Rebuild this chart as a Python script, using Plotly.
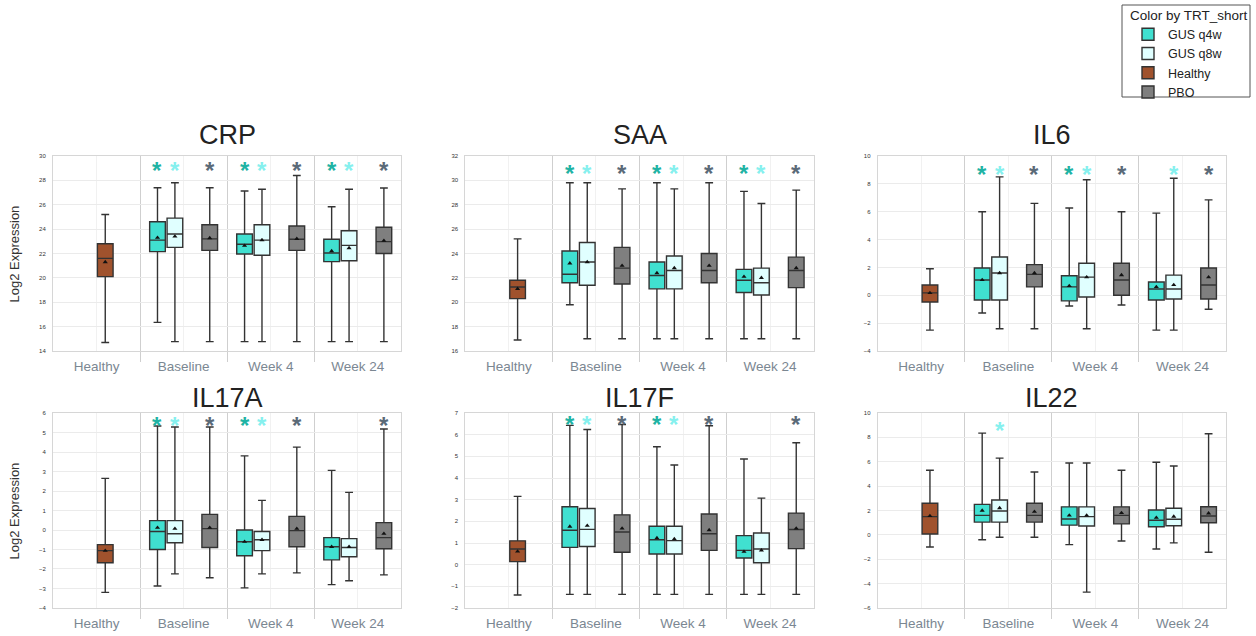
import plotly.graph_objects as go
from plotly.subplots import make_subplots

# ---------------------------------------------------------------- data
VISITS = ["Healthy", "Baseline", "Week 4", "Week 24"]
TREATMENTS = ["GUS q4w", "GUS q8w", "Healthy", "PBO"]

# order of the ten boxes drawn in every panel
BOX_VISIT = ["Healthy",
             "Baseline", "Baseline", "Baseline",
             "Week 4", "Week 4", "Week 4",
             "Week 24", "Week 24", "Week 24"]
BOX_TRT = ["Healthy",
           "GUS q4w", "GUS q8w", "PBO",
           "GUS q4w", "GUS q8w", "PBO",
           "GUS q4w", "GUS q8w", "PBO"]

MARKERS = ["CRP", "SAA", "IL6", "IL17A", "IL17F", "IL22"]

# CRP
CRP_LOW = [14.7, 16.35, 14.77, 14.77, 14.77, 14.77, 14.77, 14.77, 14.77, 14.77]
CRP_Q1 = [20.1, 22.15, 22.5, 22.26, 21.96, 21.85, 22.26, 21.33, 21.41, 22.0]
CRP_MED = [21.6, 23.1, 23.6, 23.2, 22.76, 23.1, 23.17, 22.04, 22.67, 22.97]
CRP_Q3 = [22.8, 24.6, 24.9, 24.36, 23.6, 24.36, 24.26, 23.17, 23.87, 24.15]
CRP_HIGH = [25.2, 27.4, 27.8, 27.4, 27.13, 27.27, 28.4, 25.84, 27.27, 27.37]
CRP_MEAN = [21.3, 23.3, 23.4, 23.27, 22.64, 23.1, 23.2, 22.2, 22.45, 23.05]
CRP_STAR = [0, 1, 1, 1, 1, 1, 1, 1, 1, 1]

# SAA
SAA_LOW = [16.9, 19.8, 17.0, 17.0, 17.0, 17.0, 17.0, 17.0, 17.0, 17.0]
SAA_Q1 = [20.3, 21.6, 21.4, 21.5, 21.1, 21.1, 21.6, 20.8, 20.6, 21.2]
SAA_MED = [21.25, 22.3, 23.3, 22.8, 22.2, 22.6, 22.6, 21.8, 21.6, 22.6]
SAA_Q3 = [21.8, 24.2, 24.9, 24.5, 23.3, 23.8, 24.0, 22.7, 22.8, 23.7]
SAA_HIGH = [25.2, 29.8, 29.8, 29.3, 29.8, 29.3, 29.8, 29.1, 28.1, 29.2]
SAA_MEAN = [21.1, 23.2, 23.3, 23.0, 22.4, 22.8, 23.0, 22.1, 22.0, 22.8]
SAA_STAR = [0, 1, 1, 1, 1, 1, 1, 1, 1, 1]

# IL6
IL6_LOW = [-2.5, -1.27, -2.4, -2.4, -0.77, -2.4, -0.7, -2.5, -2.5, -1.0]
IL6_Q1 = [-0.48, -0.34, -0.34, 0.6, -0.4, -0.12, 0.0, -0.34, -0.27, -0.27]
IL6_MED = [0.17, 1.1, 1.6, 1.5, 0.6, 1.3, 1.1, 0.45, 0.45, 0.74]
IL6_Q3 = [0.74, 1.96, 2.75, 2.2, 1.4, 2.3, 2.3, 0.95, 1.45, 1.96]
IL6_HIGH = [1.9, 6.0, 8.5, 6.6, 6.27, 8.3, 6.0, 5.9, 8.4, 6.85]
IL6_MEAN = [0.17, 1.1, 1.6, 1.6, 0.67, 1.3, 1.45, 0.6, 0.74, 1.3]
IL6_STAR = [0, 1, 1, 1, 1, 1, 1, 0, 1, 1]

# IL17A
IL17A_LOW = [-3.2, -2.87, -2.25, -2.45, -2.97, -2.25, -2.2, -2.8, -2.6, -2.3]
IL17A_Q1 = [-1.68, -1.0, -0.65, -0.9, -1.32, -1.06, -0.86, -1.53, -1.37, -0.96]
IL17A_MED = [-1.06, -0.08, -0.19, 0.07, -0.6, -0.5, -0.03, -0.86, -0.9, -0.39]
IL17A_Q3 = [-0.75, 0.48, 0.48, 0.8, 0.0, -0.08, 0.7, -0.39, -0.44, 0.38]
IL17A_HIGH = [2.65, 5.33, 5.28, 5.28, 3.8, 1.52, 4.25, 3.06, 1.93, 5.18]
IL17A_MEAN = [-1.06, 0.12, 0.07, 0.12, -0.6, -0.5, 0.07, -0.86, -0.86, -0.19]
IL17A_STAR = [0, 1, 1, 1, 1, 1, 1, 0, 0, 1]

# IL17F
IL17F_LOW = [-1.4, -1.37, -1.37, -1.37, -1.37, -1.37, -1.37, -1.37, -1.37, -1.37]
IL17F_Q1 = [0.14, 0.80, 0.84, 0.57, 0.49, 0.49, 0.66, 0.31, 0.09, 0.74]
IL17F_MED = [0.72, 1.59, 1.63, 1.51, 1.15, 1.11, 1.43, 0.66, 0.72, 1.62]
IL17F_Q3 = [1.1, 2.67, 2.59, 2.3, 1.77, 1.77, 2.34, 1.34, 1.46, 2.38]
IL17F_HIGH = [3.15, 6.43, 6.24, 6.47, 5.44, 4.6, 6.41, 4.88, 3.07, 5.63]
IL17F_MEAN = [0.61, 1.76, 1.8, 1.67, 1.23, 1.18, 1.6, 0.6, 0.66, 1.67]
IL17F_STAR = [0, 1, 1, 1, 1, 1, 1, 0, 0, 1]

# IL22
IL22_LOW = [-1.0, -0.4, -0.2, -0.2, -0.8, -4.7, -0.5, -1.16, -0.66, -1.43]
IL22_Q1 = [0.07, 1.05, 1.05, 1.05, 0.8, 0.73, 0.9, 0.67, 0.75, 1.0]
IL22_MED = [1.5, 1.6, 1.96, 1.6, 1.3, 1.5, 1.6, 1.2, 1.28, 1.55]
IL22_Q3 = [2.6, 2.5, 2.86, 2.6, 2.3, 2.3, 2.3, 2.04, 2.18, 2.31]
IL22_HIGH = [5.3, 8.35, 6.3, 5.16, 5.9, 5.9, 5.3, 5.96, 5.65, 8.3]
IL22_MEAN = [1.55, 2.0, 2.2, 1.9, 1.6, 1.6, 1.8, 1.41, 1.5, 1.77]
IL22_STAR = [0, 0, 1, 0, 0, 0, 0, 0, 0, 0]

PANELS = {
    "CRP": (CRP_LOW, CRP_Q1, CRP_MED, CRP_Q3, CRP_HIGH, CRP_MEAN, CRP_STAR),
    "SAA": (SAA_LOW, SAA_Q1, SAA_MED, SAA_Q3, SAA_HIGH, SAA_MEAN, SAA_STAR),
    "IL6": (IL6_LOW, IL6_Q1, IL6_MED, IL6_Q3, IL6_HIGH, IL6_MEAN, IL6_STAR),
    "IL17A": (IL17A_LOW, IL17A_Q1, IL17A_MED, IL17A_Q3, IL17A_HIGH, IL17A_MEAN, IL17A_STAR),
    "IL17F": (IL17F_LOW, IL17F_Q1, IL17F_MED, IL17F_Q3, IL17F_HIGH, IL17F_MEAN, IL17F_STAR),
    "IL22": (IL22_LOW, IL22_Q1, IL22_MED, IL22_Q3, IL22_HIGH, IL22_MEAN, IL22_STAR),
}

# ---------------------------------------------------------------- styling
Y_RANGE = {"CRP": (14, 30, 2), "SAA": (16, 32, 2), "IL6": (-4, 10, 2),
           "IL17A": (-4, 6, 1), "IL17F": (-2, 7, 1), "IL22": (-6, 10, 2)}
STAR_LEVEL = {"CRP": 29.2, "SAA": 30.95, "IL6": 9.05, "IL17A": 5.6,
              "IL17F": 6.69, "IL22": 9.0}

FILL = {"GUS q4w": "#40E0D0", "GUS q8w": "#E0FFFF",
        "Healthy": "#A0522D", "PBO": "#7F7F7F"}
STAR_COLOR = {"GUS q4w": "#1fb3a4", "GUS q8w": "#86f0ee", "PBO": "#5b6a78"}
# dodge: four slots inside each visit category
SLOT = {"GUS q4w": -0.3, "GUS q8w": -0.1, "Healthy": 0.1, "PBO": 0.3}
BOX_WIDTH = 0.18
FONT = "Liberation Sans, Arial, sans-serif"

fig = make_subplots(rows=2, cols=3, horizontal_spacing=0.0546,
                    vertical_spacing=0.1372)

annotations = []
for p, name in enumerate(MARKERS):
    row, col = p // 3 + 1, p % 3 + 1
    low, q1, med, q3, high, mean, star = PANELS[name]
    for trt in TREATMENTS:
        idx = [i for i, t in enumerate(BOX_TRT) if t == trt]
        xs = [VISITS.index(BOX_VISIT[i]) + SLOT[trt] for i in idx]
        fig.add_trace(go.Box(
            x=xs,
            lowerfence=[low[i] for i in idx],
            q1=[q1[i] for i in idx],
            median=[med[i] for i in idx],
            q3=[q3[i] for i in idx],
            upperfence=[high[i] for i in idx],
            width=BOX_WIDTH, whiskerwidth=0.5,
            fillcolor=FILL[trt],
            line=dict(color="#333333", width=1.4),
            boxpoints=False, name=trt, legendgroup=trt,
            showlegend=(p == 0), hoverinfo="skip",
        ), row=row, col=col)
        fig.add_trace(go.Scatter(
            x=xs, y=[mean[i] for i in idx], mode="markers",
            marker=dict(symbol="triangle-up", size=4.5, color="#111111"),
            showlegend=False, hoverinfo="skip",
        ), row=row, col=col)

    ax = "" if p == 0 else str(p + 1)
    # significance asterisks
    for i, flag in enumerate(star):
        if flag:
            trt = BOX_TRT[i]
            annotations.append(dict(
                x=VISITS.index(BOX_VISIT[i]) + SLOT[trt], y=STAR_LEVEL[name],
                xref="x" + ax, yref="y" + ax, text="<b>*</b>",
                showarrow=False, yshift=-5,
                font=dict(family=FONT, size=24, color=STAR_COLOR[trt])))
    # panel title
    annotations.append(dict(
        x=0.5, y=1, xref="x" + ax + " domain", yref="y" + ax + " domain",
        text=name, showarrow=False, yanchor="middle",
        yshift=21 if row == 1 else 15,
        font=dict(family=FONT, size=27, color="#222222")))

    lo, hi, step = Y_RANGE[name]
    fig.update_yaxes(range=[lo, hi], dtick=step, tick0=lo,
                     showgrid=True, gridcolor="#ebebeb", gridwidth=1,
                     zeroline=False, showline=True, mirror=True,
                     linecolor="#d6d6d6", linewidth=1, ticks="",
                     ticklabelstandoff=5,
                     tickfont=dict(family=FONT, size=6, color="#333333"),
                     row=row, col=col)
    fig.update_xaxes(range=[-0.5, 3.5], tickvals=[0, 1, 2, 3],
                     ticktext=VISITS, showgrid=True, gridcolor="#f1f1f1",
                     zeroline=False, showline=True, mirror=True,
                     linecolor="#d6d6d6", linewidth=1, ticks="",
                     ticklabelstandoff=3,
                     tickfont=dict(family=FONT, size=13.5, color="#7b8792"),
                     minor=dict(tickvals=[0.5, 1.5, 2.5], showgrid=True,
                                gridcolor="#cfcfcf", ticks="outside",
                                ticklen=10, tickcolor="#cfcfcf"),
                     row=row, col=col)

# y axis titles on the left column
for yref in ("y", "y4"):
    annotations.append(dict(
        x=-0.0324, y=0.5, xref="paper", yref=yref + " domain",
        xanchor="center", yanchor="middle",
        text="Log2 Expression", textangle=-90, showarrow=False,
        font=dict(family=FONT, size=13, color="#333333")))

# frame around the legend (1122..1250 x 5..97 px)
PLOT_W, PLOT_H = 1173, 452
legend_frame = dict(
    type="rect", xref="paper", yref="paper",
    x0=(1122 - 53) / PLOT_W, x1=(1250 - 53) / PLOT_W,
    y0=(608 - 97) / PLOT_H, y1=(608 - 5) / PLOT_H,
    line=dict(color="#555555", width=1), fillcolor="rgba(0,0,0,0)",
    layer="above")

fig.update_layout(
    width=1256, height=636,
    margin=dict(l=53, r=30, t=156, b=28, autoexpand=False),
    paper_bgcolor="white", plot_bgcolor="white",
    boxmode="overlay",
    annotations=annotations,
    shapes=[legend_frame],
    legend=dict(
        title=dict(text="Color by TRT_short",
                   font=dict(family=FONT, size=13.5, color="#222222")),
        font=dict(family=FONT, size=12.5, color="#222222"),
        x=(1250 - 53) / PLOT_W, y=(608 - 2) / PLOT_H,
        xanchor="right", yanchor="top",
        borderwidth=0, bgcolor="rgba(0,0,0,0)",
        tracegroupgap=0, itemwidth=30, indentation=0,
    ),
)

fig.write_html("out.html")
